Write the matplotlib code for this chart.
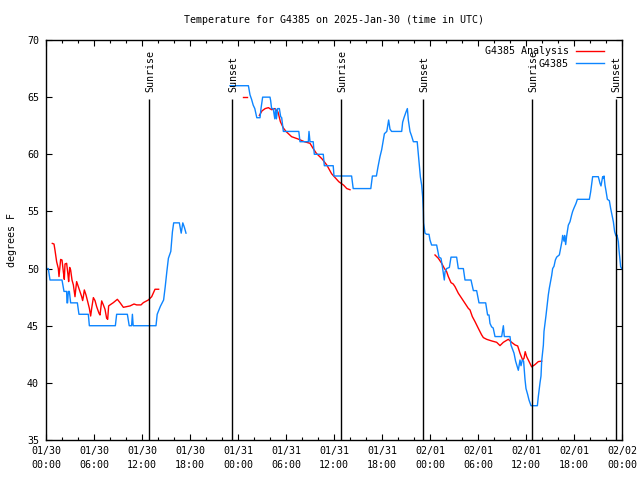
"""Temperature trace for G4385 with analysis overlay and sunrise/sunset marks."""

import matplotlib

matplotlib.use("Agg")
import matplotlib.pyplot as plt
from matplotlib.ticker import MultipleLocator

# ── Data (hours after 2025-01-30 00:00 UTC, degrees F) ───────────────────────

OBS_SEG1_H = [0.0, 0.3, 0.35, 0.5, 2.0, 2.25, 2.58, 2.62, 2.7, 2.79, 2.92, 3.08,
              3.92, 4.12, 5.29, 5.42, 8.67, 8.83, 10.17, 10.4, 10.7, 10.8, 10.9,
              13.75, 13.9, 14.3, 14.7, 14.9, 15.1, 15.3, 15.6, 15.8, 15.96, 16.67,
              16.9, 17.1, 17.3, 17.5]
OBS_SEG1_T = [50.0, 50.0, 49.7, 49.0, 49.0, 48.0, 48.0, 47.0, 47.0, 48.0, 48.0, 47.0,
              47.0, 46.0, 46.0, 45.0, 45.0, 46.0, 46.0, 45.0, 45.0, 46.0, 45.0,
              45.0, 46.0, 46.7, 47.25, 48.4, 49.7, 50.9, 51.5, 53.2, 54.0, 54.0,
              53.1, 54.0, 53.6, 53.1]

OBS_SEG2_H = [23.0, 25.3, 25.5, 25.7, 25.9, 26.1, 26.35, 26.75, 26.875, 27.08, 28.0,
              28.08, 28.2, 28.4, 28.6, 28.7, 28.8, 28.96, 29.17, 29.33, 29.46, 29.67,
              31.6, 31.75, 32.79, 32.875, 33.0, 33.4, 33.54, 34.66, 34.79, 35.9, 36.0,
              38.2, 38.4, 40.6, 40.8, 41.3, 41.5, 41.75, 41.96, 42.17, 42.3, 42.6,
              42.83, 43.0, 43.2, 44.46, 44.58, 44.75, 45.0, 45.17, 45.29, 45.5, 45.7,
              45.92, 46.4, 46.54, 46.67, 46.8, 46.96, 47.08, 47.17, 47.2, 47.375,
              47.58, 47.875, 48.0, 48.2, 48.83, 48.96, 49.125, 49.375, 49.54, 49.79,
              49.875, 50.08, 50.42, 50.625, 51.33, 51.54, 52.17, 52.375, 53.125,
              53.42, 53.83, 54.125, 54.96, 55.2, 55.375, 55.5, 55.7, 55.9, 56.125,
              56.96, 57.17, 57.29, 58.0, 58.125, 58.29, 58.5, 58.7, 59.04, 59.25,
              59.375, 59.54, 59.7, 59.875, 60.0, 60.2, 60.375, 60.625, 61.42, 61.54,
              61.75, 61.875, 61.96, 62.17, 62.25, 62.375, 62.5, 62.67, 62.79, 62.92,
              63.08, 63.21, 63.33, 63.5, 63.67, 63.83, 64.17, 64.33, 64.5, 64.58,
              64.75, 64.83, 64.96, 65.08, 65.29, 65.5, 65.71, 65.83, 66.0, 66.25,
              66.42, 67.92, 68.08, 68.33, 69.04, 69.25, 69.375, 69.58, 69.67, 69.75,
              69.875, 70.0, 70.17, 70.42, 70.58, 70.75, 70.92, 71.08, 71.25, 71.375,
              71.54, 71.625, 71.75, 71.83, 71.95]
OBS_SEG2_T = [66.0, 66.0, 65.2, 64.8, 64.3, 64.0, 63.2, 63.2, 64.0, 65.0, 65.0,
              64.7, 64.0, 64.0, 63.1, 64.0, 63.1, 64.0, 64.0, 63.3, 63.2, 62.0,
              62.0, 61.1, 61.1, 62.0, 61.1, 61.1, 60.0, 60.0, 59.0, 59.0, 58.1,
              58.1, 57.0, 57.0, 58.1, 58.1, 58.9, 59.8, 60.4, 61.25, 61.8, 62.0,
              63.0, 62.2, 62.0, 62.0, 62.8, 63.2, 63.7, 64.0, 63.0, 62.0, 61.6,
              61.1, 61.1, 60.0, 58.9, 58.0, 57.3, 56.3, 55.0, 54.0, 53.1,
              53.0, 53.0, 52.5, 52.06, 52.06, 51.6, 51.0, 50.9, 50.2, 49.0,
              49.7, 50.0, 50.1, 51.0, 51.0, 50.0, 50.0, 49.0, 49.0,
              48.07, 48.07, 47.0, 47.0, 45.94, 45.94, 45.2, 44.9, 44.8, 44.05,
              44.05, 45.0, 44.05, 44.05, 43.3, 43.0, 42.6, 41.9, 41.1, 42.0,
              41.5, 42.0, 41.9, 40.3, 39.5, 39.0, 38.5, 38.0, 38.0, 38.8,
              40.0, 40.6, 41.9, 43.3, 44.5, 45.2, 45.9, 47.0, 47.7, 48.3,
              48.9, 49.4, 50.0, 50.2, 50.75, 51.0, 51.2, 51.8, 52.4, 52.9,
              52.4, 52.9, 52.1, 52.85, 53.8, 54.1, 54.7, 55.0, 55.3, 55.7,
              56.06, 56.06, 56.7, 58.04, 58.04, 57.46, 57.23, 58.04, 57.9, 58.1,
              57.3, 56.8, 56.06, 55.94, 55.27, 54.7, 54.1, 53.23, 52.85, 52.94,
              52.36, 51.63, 50.75, 50.17, 50.0]

ANA_SEG1_H = [0.79, 1.0, 1.125, 1.33, 1.54, 1.625, 1.83, 2.0, 2.17, 2.29, 2.375,
              2.58, 2.75, 2.83, 2.96, 3.08, 3.25, 3.42, 3.625, 3.71, 3.83, 4.04,
              4.25, 4.46, 4.58, 4.67, 4.79, 5.0, 5.21, 5.42, 5.58, 5.71, 5.92,
              6.125, 6.33, 6.625, 6.75, 6.96, 7.17, 7.375, 7.58, 7.71, 7.83, 8.0,
              8.42, 8.92, 9.25, 9.67, 10.08, 10.5, 11.0, 11.33, 11.875, 12.17,
              12.79, 13.21, 13.625, 14.08]
ANA_SEG1_T = [52.2, 52.15, 51.6, 50.6, 50.0, 49.3, 50.8, 50.75, 49.7, 49.06, 50.4,
              50.46, 49.44, 48.86, 50.1, 49.88, 49.0, 48.57, 47.54, 48.13, 48.86,
              48.42, 47.98, 47.54, 47.2, 47.54, 48.13, 47.69, 47.11, 46.52, 45.85,
              46.52, 47.46, 47.2, 46.67, 46.09, 45.94, 47.17, 46.82, 46.44, 45.65,
              45.56, 46.73, 46.82, 47.02, 47.31, 47.02, 46.61, 46.67, 46.73, 46.9,
              46.82, 46.82, 47.02, 47.25, 47.54, 48.19, 48.19]

ANA_SEG2_H = [24.67, 25.08]
ANA_SEG2_T = [65.0, 65.0]

ANA_SEG3_H = [26.67, 27.0, 27.4, 27.8, 28.2, 28.6, 29.0, 29.3, 29.67, 30.0, 30.7,
              31.5, 32.3, 33.0, 33.4, 33.8, 34.5, 35.1, 35.7, 36.6, 37.2, 37.6, 38.0]
ANA_SEG3_T = [63.4, 63.8, 64.0, 64.08, 63.9, 64.0, 63.7, 62.85, 62.3, 62.0, 61.54,
              61.34, 61.1, 60.96, 60.5, 60.08, 59.6, 59.06, 58.3, 57.6, 57.3, 57.0, 56.9]

ANA_SEG4_H = [48.625, 49.04, 49.46, 49.79, 50.08, 50.29, 50.625, 50.9, 51.125,
              51.54, 51.96, 52.375, 52.79, 53.0, 53.29, 53.625, 54.04, 54.46, 54.67,
              55.08, 55.7, 56.33, 56.75, 57.17, 57.79, 58.2, 58.625, 58.96, 59.25,
              59.58, 59.75, 59.9, 60.08, 60.5, 60.71, 61.125, 61.54, 61.96]
ANA_SEG4_T = [51.19, 50.9, 50.46, 50.02, 49.73, 49.3, 48.77, 48.65, 48.42, 47.84,
              47.4, 46.96, 46.52, 46.38, 45.8, 45.36, 44.77, 44.19, 43.96, 43.81,
              43.67, 43.55, 43.26, 43.55, 43.81, 43.55, 43.32, 43.23, 42.59, 42.0,
              42.15, 42.73, 42.3, 41.7, 41.4, 41.6, 41.86, 41.9]

SUN_EVENTS_H = [12.9, 23.3, 36.92, 47.17, 60.79, 71.21]
SUN_EVENTS = ["Sunrise", "Sunset", "Sunrise", "Sunset", "Sunrise", "Sunset"]

X_TICKS_H = [0, 6, 12, 18, 24, 30, 36, 42, 48, 54, 60, 66, 72]
X_TICK_LABELS = ["01/30\n00:00", "01/30\n06:00", "01/30\n12:00", "01/30\n18:00",
                 "01/31\n00:00", "01/31\n06:00", "01/31\n12:00", "01/31\n18:00",
                 "02/01\n00:00", "02/01\n06:00", "02/01\n12:00", "02/01\n18:00",
                 "02/02\n00:00"]

# ── Style ─────────────────────────────────────────────────────────────────────

FONT = "DejaVu Sans Mono"
FS = 7.2
OBS_COLOR = "#0d85ff"
ANA_COLOR = "#ff0000"

plt.rcParams["font.family"] = [FONT]
plt.rcParams["font.size"] = FS

fig = plt.figure(figsize=(6.4, 4.8), dpi=100)
ax = fig.add_axes([46 / 640, 40 / 480, 576 / 640, 400 / 480])

ax.plot(ANA_SEG1_H, ANA_SEG1_T, color=ANA_COLOR, lw=1.0, label="G4385 Analysis")
ax.plot(ANA_SEG2_H, ANA_SEG2_T, color=ANA_COLOR, lw=1.0)
ax.plot(ANA_SEG3_H, ANA_SEG3_T, color=ANA_COLOR, lw=1.0)
ax.plot(ANA_SEG4_H, ANA_SEG4_T, color=ANA_COLOR, lw=1.0)
ax.plot(OBS_SEG1_H, OBS_SEG1_T, color=OBS_COLOR, lw=1.0, label="G4385")
ax.plot(OBS_SEG2_H, OBS_SEG2_T, color=OBS_COLOR, lw=1.0)

# sunrise / sunset markers (labels sit on top of each line, as in the original)
for t, name in zip(SUN_EVENTS_H, SUN_EVENTS):
    ax.vlines(t, 35, 64.85, color="black", lw=1.0)
    ax.text(t + 0.1, 65.45, name, rotation=90, ha="center", va="bottom", fontsize=FS)

ax.set_xlim(0, 72)
ax.set_ylim(35, 70)
ax.set_xticks(X_TICKS_H)
ax.set_xticklabels(X_TICK_LABELS, linespacing=1.5)
ax.xaxis.set_minor_locator(MultipleLocator(2))
ax.yaxis.set_major_locator(MultipleLocator(5))
ax.tick_params(axis="both", which="both", direction="in", top=True, right=True,
               labelsize=FS, width=0.8)
ax.tick_params(axis="both", which="major", length=4.5)
ax.tick_params(axis="both", which="minor", length=2.3)
ax.tick_params(axis="x", pad=4)
ax.tick_params(axis="y", pad=5)
for s in ax.spines.values():
    s.set_linewidth(1.0)

ax.set_ylabel("degrees F", fontsize=FS)
ax.yaxis.set_label_coords(-0.05, 0.5)
ax.set_title("Temperature for G4385 on 2025-Jan-30 (time in UTC)", fontsize=FS, pad=12)

ax.legend(loc="upper right", bbox_to_anchor=(0.977, 0.997), frameon=False,
          markerfirst=False, borderpad=0, handlelength=2.8, handletextpad=0.7,
          labelspacing=0.25, fontsize=FS)

fig.savefig("out.png", dpi=100)
